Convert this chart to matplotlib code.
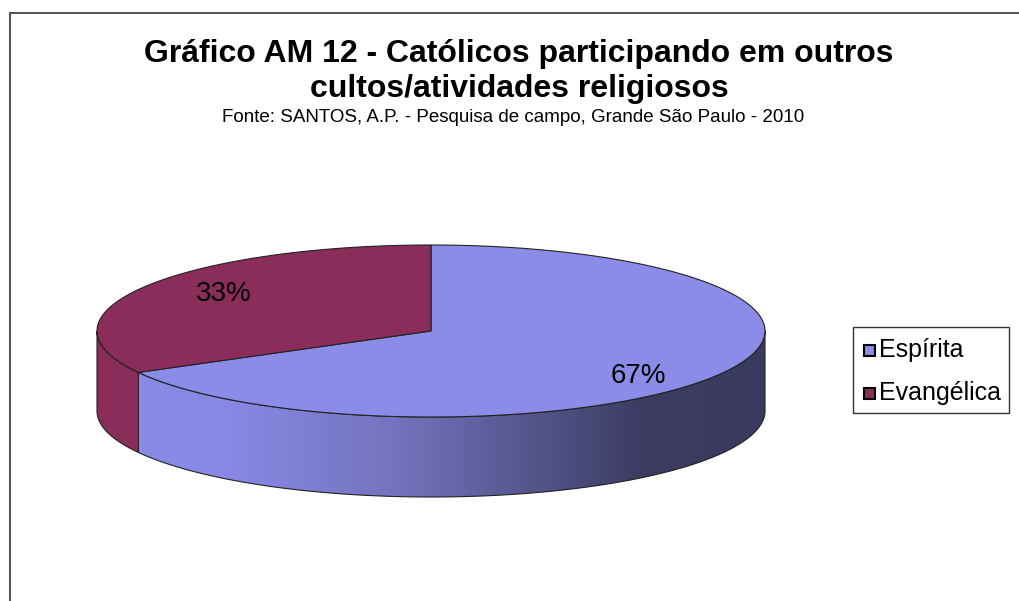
import numpy as np
import matplotlib.pyplot as plt
from matplotlib.patches import Polygon, Rectangle
from matplotlib.colors import LinearSegmentedColormap
from matplotlib.lines import Line2D

plt.rcParams['font.family'] = ['Liberation Sans', 'DejaVu Sans']

labels = ['Espírita', 'Evangélica']
values = [67, 33]
pct_labels = ['67%', '33%']
colors = ['#8b8be8', '#8b2d5a']
title_lines = ['Gráfico AM 12 - Católicos participando em outros',
               'cultos/atividades religiosos']
subtitle = 'Fonte: SANTOS, A.P. - Pesquisa de campo, Grande São Paulo - 2010'

# pie geometry (pixels)
cx, cy = 431, 331
a, b = 334, 86
depth = 80
edge = '#222222'

fig = plt.figure(figsize=(10.19, 6.01), dpi=100)
ax = fig.add_axes([0, 0, 1, 1])

def arc(t0, t1, n=200, dy=0):
    t = np.radians(np.linspace(t0, t1, n))
    return np.column_stack([cx + a * np.cos(t), cy - b * np.sin(t) + dy])

# slice angles: Espirita clockwise from top, Evangelica counterclockwise
total = sum(values)
spans = [v / total * 360 for v in values]
ranges = [(90 + spans[1], 450), (90, 90 + spans[1])]

# front side walls (visible part 180..360)
side_grad = LinearSegmentedColormap.from_list('side', [
    (0.0, (138/255, 138/255, 232/255)),
    (0.2, (136/255, 136/255, 228/255)),
    (0.45, (115/255, 115/255, 190/255)),
    (0.65, (85/255, 85/255, 140/255)),
    (0.82, (60/255, 60/255, 98/255)),
    (1.0, (58/255, 58/255, 94/255)),
])
walls = [(ranges[0][0], 360), (180, ranges[1][1])]
for i, (lo, hi) in enumerate(walls):
    top = arc(lo, hi)
    bot = arc(hi, lo, dy=depth)
    poly = Polygon(np.vstack([top, bot]), closed=True,
                   facecolor=colors[i] if i == 1 else 'none',
                   edgecolor=edge, lw=0.8, zorder=2)
    ax.add_patch(poly)
    if i == 0:
        g = np.linspace(0, 1, 512).reshape(1, -1)
        im = ax.imshow(g, cmap=side_grad, extent=[cx - a, cx + a, cy + b + depth, cy - b],
                       aspect='auto', zorder=1.5, interpolation='bilinear')
        im.set_clip_path(poly)

# top wedges
for i, (t0, t1) in enumerate(ranges):
    pts = np.vstack([[cx, cy], arc(t0, t1)])
    ax.add_patch(Polygon(pts, closed=True, facecolor=colors[i], edgecolor=edge, lw=0.8, zorder=3))

# percentage labels
for i, (t0, t1) in enumerate(ranges):
    m = np.radians((t0 + t1) / 2)
    ax.text(cx + 0.72 * a * np.cos(m), cy + 4 - 0.93 * b * np.sin(m), pct_labels[i],
            fontsize=20, ha='center', va='center', zorder=4)

# titles
for k, line in enumerate(title_lines):
    ax.text(519, 54 + k * 35, line, fontsize=23, fontweight='bold', ha='center', va='center')
ax.text(513, 118, subtitle, fontsize=13.5, ha='center', va='center')

# legend
ax.add_patch(Rectangle((853, 327), 156, 86, facecolor='white', edgecolor='#333333', lw=1))
for i, lab in enumerate(labels):
    y = 350 + i * 43
    ax.add_patch(Rectangle((864, y - 5), 11, 11, facecolor=colors[i], edgecolor='black', lw=1.5))
    ax.text(879, y, lab, fontsize=18, ha='left', va='center')

# chart frame
ax.add_line(Line2D([10, 1019], [13, 13], color='#333333', lw=1.2))
ax.add_line(Line2D([10, 10], [13, 601], color='#555555', lw=1.5))

ax.set_xlim(0, 1019)
ax.set_ylim(601, 0)
ax.axis('off')
fig.savefig('out.png', dpi=100)
